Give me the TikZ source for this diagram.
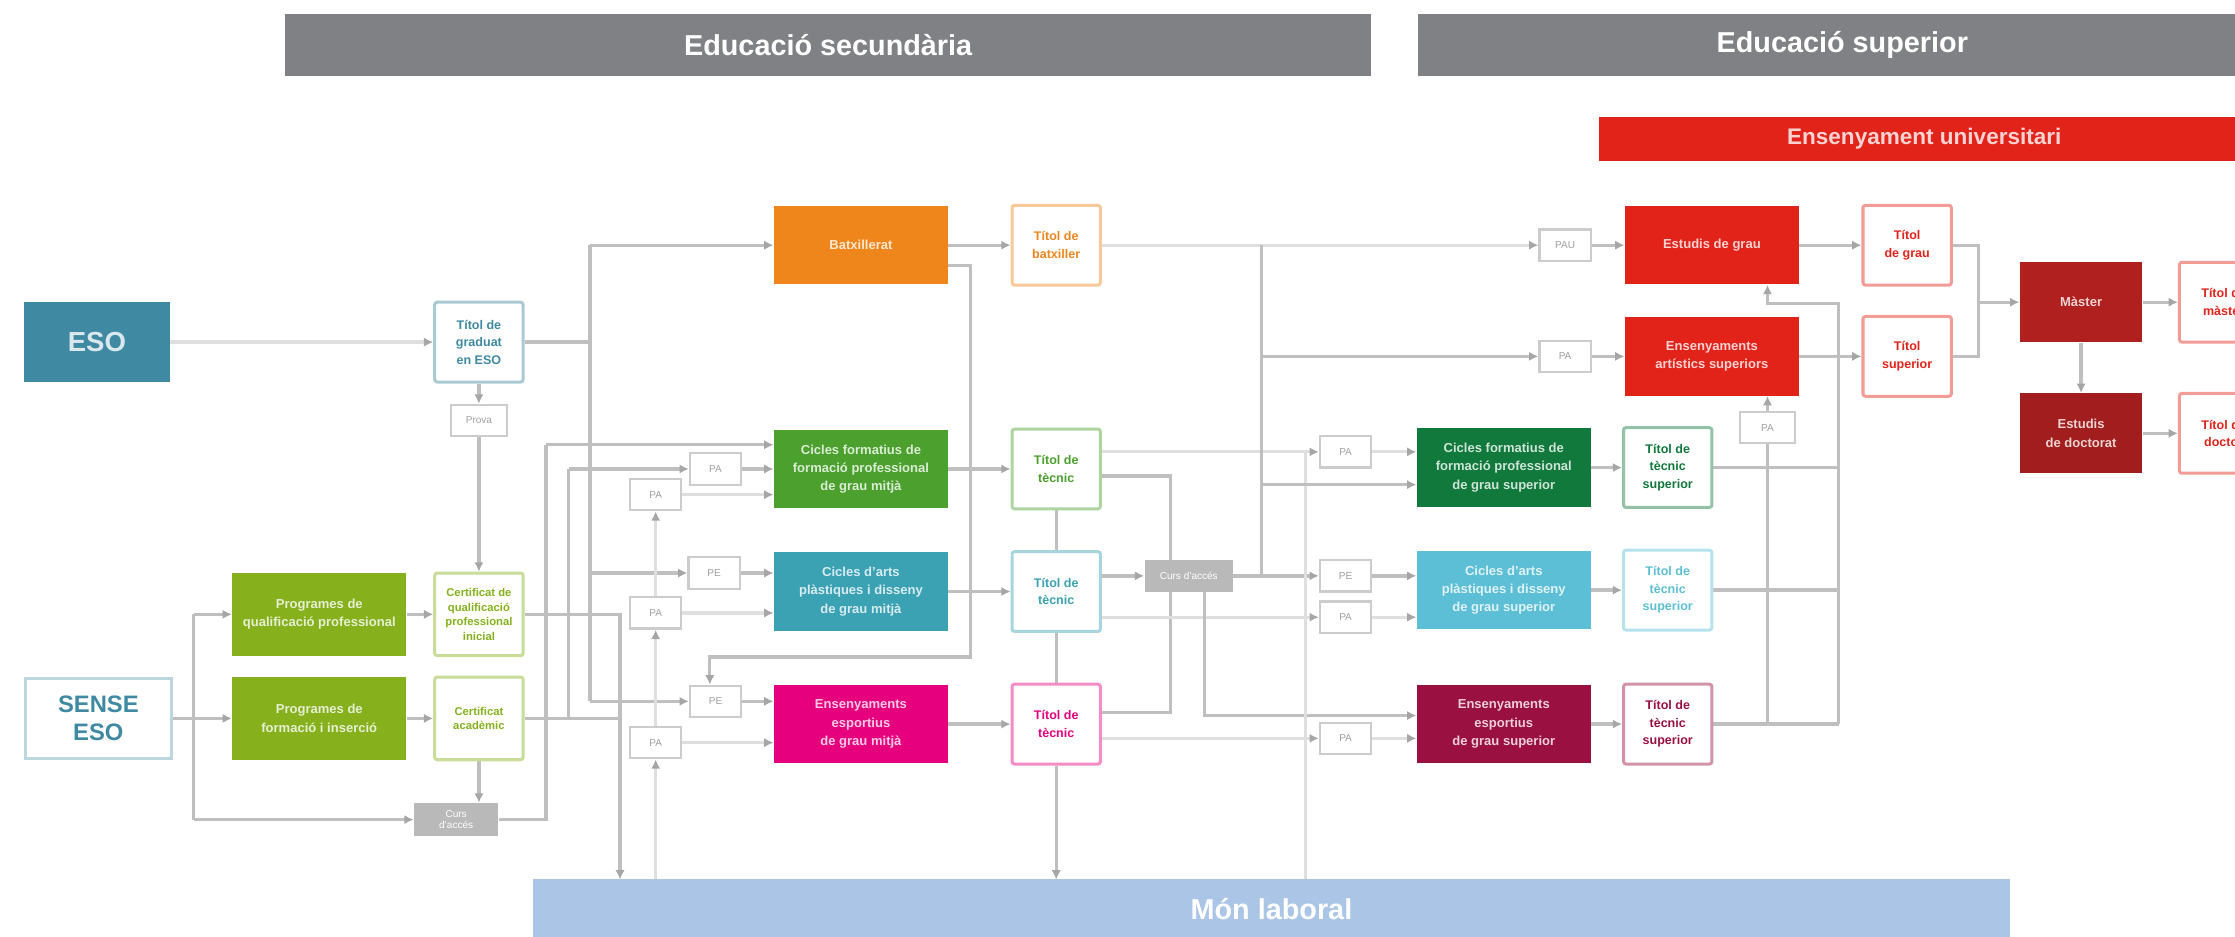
\documentclass[tikz,border=0pt]{standalone}
\usepackage{fontspec}
\setmainfont{Liberation Sans}
\usepackage{xcolor}
\usetikzlibrary{arrows.meta,positioning,calc,backgrounds}

\definecolor{cHead}{HTML}{808184}
\definecolor{cUni}{HTML}{E2231A}
\definecolor{cLab}{HTML}{AAC5E5}
\definecolor{cEso}{HTML}{3F8AA2}
\definecolor{cProg}{HTML}{86B11D}
\definecolor{cBatx}{HTML}{EE861B}
\definecolor{cCfgm}{HTML}{4BA02E}
\definecolor{cArtm}{HTML}{3BA2B4}
\definecolor{cEspm}{HTML}{E6007E}
\definecolor{cCfgs}{HTML}{10793B}
\definecolor{cArts}{HTML}{5DBFD5}
\definecolor{cEsps}{HTML}{9A1040}
\definecolor{cMast}{HTML}{B0201F}

\newcommand{\boxfont}{\fontsize{5.2}{7.3}\selectfont\bfseries}
\newcommand{\titfont}{\fontsize{5}{7}\selectfont\bfseries}
\newcommand{\tagfont}{\fontsize{4}{4.6}\selectfont}

\begin{document}
\begin{tikzpicture}[x=0.2mm,y=-0.2mm,
  headbar/.style={inner sep=0pt,text=white,font=\fontsize{11.5}{13}\selectfont\bfseries},
  blk/.style={fill=#1,text=#1!20!white,minimum width=24.4mm,minimum height=11mm,inner sep=1pt,align=center,font=\boxfont},
  tit/.style={draw=#1!45,line width=1.2pt,fill=white,text=#1,rounded corners=1pt,minimum width=12.4mm,minimum height=11.2mm,inner sep=0.5pt,align=center,font=\titfont},
  tagbox/.style={draw=gray!40,line width=0.9pt,fill=white,text=gray!75,minimum width=7.2mm,minimum height=4.4mm,inner sep=0pt,font=\tagfont},
  curbox/.style={fill=gray!55,text=white,minimum width=12.4mm,minimum height=4.4mm,inner sep=0pt,align=center,font=\tagfont},
  lnk/.style={draw=gray!50,line width=1.3pt},
  lnkl/.style={draw=gray!25,line width=1.3pt},
  arr/.style={-{Latex[length=1.3mm,width=1.3mm,color=gray!70]}}
]
\useasboundingbox (0,0) rectangle (1568,657);
\clip (0,0) rectangle (1568,657);

% bands
\node[headbar,fill=cHead,minimum width=152.4mm,minimum height=8.6mm] (hsec) at (581,31.5) {Educació secundària};
\node[headbar,fill=cHead,minimum width=119mm,minimum height=8.6mm] (hsup) at (1292.5,31.5) {Educació superior};
\node[headbar,fill=cUni,text=cUni!20!white,minimum width=91.2mm,minimum height=6.2mm,font=\fontsize{9}{10}\selectfont\bfseries] (huni) at (1350,97.5) {Ensenyament universitari};
\node[headbar,fill=cLab,minimum width=207.2mm,minimum height=8.4mm] (lab) at (892,638) {Món laboral};

% bus columns and levels
\coordinate (xS) at (136,0);
\coordinate (xC) at (383,0);
\coordinate (xQ) at (399,0);
\coordinate (xE) at (414,0);
\coordinate (xL) at (435,0);
\coordinate (xJ) at (498,0);
\coordinate (xB) at (681,0);
\coordinate (xK) at (821,0);
\coordinate (xD) at (845,0);
\coordinate (xR) at (885,0);
\coordinate (xW) at (916,0);
\coordinate (xU) at (1240,0);
\coordinate (xV) at (1290,0);
\coordinate (xT) at (1388,0);
\coordinate (yB) at (0,186);
\coordinate (yG) at (0,213);
\coordinate (yC) at (0,312);
\coordinate (yK) at (0,334);
\coordinate (yF) at (0,340);
\coordinate (yP) at (0,461);
\coordinate (yE) at (0,500);
\coordinate (yD) at (0,502);
\coordinate (yL) at (0,617);

% left
\node[fill=cEso,text=cEso!20!white,minimum width=20.4mm,minimum height=11.2mm,font=\fontsize{11}{13}\selectfont\bfseries] (eso) at (68,240) {ESO};
\node[draw=cEso!35,line width=1.2pt,fill=white,text=cEso,minimum width=20.4mm,minimum height=11.2mm,align=center,font=\fontsize{9.5}{11}\selectfont\bfseries] (sense) at (69,504) {SENSE\\ESO};
\node[tit=cEso] (titESO) at (336,240) {Títol de\\graduat\\en ESO};
\node[tagbox,minimum width=7.8mm] (tagESO) at (336,295) {Prova};
\node[blk=cProg,minimum height=11.6mm] (prog1) at (224,431) {Programes de\\qualificació professional};
\node[blk=cProg,minimum height=11.6mm] (prog2) at (224,504) {Programes de\\formació i inserció};
\node[tit=cProg,minimum height=11.6mm,font=\fontsize{4.5}{5.8}\selectfont\bfseries] (olv1) at (336,431) {Certificat de\\qualificació\\professional\\inicial};
\node[tit=cProg,minimum height=11.6mm,font=\fontsize{4.5}{5.8}\selectfont\bfseries] (olv2) at (336,504) {Certificat\\acadèmic};
\node[curbox,minimum width=11.8mm,minimum height=4.6mm] (curA) at (320,575) {Curs\\d'accés};

% grau mitja
\node[blk=cBatx] (batx) at (604,172) {Batxillerat};
\node[tit=cBatx] (titBatx) at (741,172) {Títol de\\batxiller};
\node[blk=cCfgm] (cfgm) at (604,329) {Cicles formatius de\\formació professional\\de grau mitjà};
\node[tit=cCfgm] (titGM) at (741,329) {Títol de\\tècnic};
\node[blk=cArtm] (artsGM) at (604,415) {Cicles d'arts\\plàstiques i disseny\\de grau mitjà};
\node[tit=cArtm] (titArtsGM) at (741,415) {Títol de\\tècnic};
\node[blk=cEspm] (espGM) at (604,508) {Ensenyaments\\esportius\\de grau mitjà};
\node[tit=cEspm] (titEspGM) at (741,508) {Títol de\\tècnic};
\node[tagbox] (tPA1) at (502,329) {PA};
\node[tagbox] (tPE1) at (501,402) {PE};
\node[tagbox] (tPE2) at (502,492) {PE};
\node[tagbox] (tML1) at (460,347) {PA};
\node[tagbox] (tML2) at (460,430) {PA};
\node[tagbox] (tML3) at (460,521) {PA};
\node[curbox] (cursB) at (834,404) {Curs d'accés};

% grau superior
\node[tagbox] (rPA1) at (944,317) {PA};
\node[tagbox] (rPE) at (944,404) {PE};
\node[tagbox] (rPA2) at (944,433) {PA};
\node[tagbox] (rPA3) at (944,518) {PA};
\node[blk=cCfgs] (cfgs) at (1055,328) {Cicles formatius de\\formació professional\\de grau superior};
\node[tit=cCfgs] (titGS) at (1170,328) {Títol de\\tècnic\\superior};
\node[blk=cArts] (artsGS) at (1055,414) {Cicles d'arts\\plàstiques i disseny\\de grau superior};
\node[tit=cArts] (titArtsGS) at (1170,414) {Títol de\\tècnic\\superior};
\node[blk=cEsps] (espGS) at (1055,508) {Ensenyaments\\esportius\\de grau superior};
\node[tit=cEsps] (titEspGS) at (1170,508) {Títol de\\tècnic\\superior};

% universitat
\node[tagbox] (uPAU1) at (1098,172) {PAU};
\node[tagbox] (uPA2) at (1098,250) {PA};
\node[blk=cUni] (grau) at (1201,172) {Estudis de grau};
\node[blk=cUni] (artSup) at (1201,250) {Ensenyaments\\artístics superiors};
\node[tagbox,minimum width=7.8mm] (tagSup) at (1240,300) {PA};
\node[tit=cUni] (titGrau) at (1338,172) {Títol\\de grau};
\node[tit=cUni] (titSup) at (1338,250) {Títol\\superior};
\node[blk=cMast,minimum width=17.2mm,minimum height=11.2mm] (master) at (1460,212) {Màster};
\node[blk=cMast!92!black,minimum width=17.2mm,minimum height=11.2mm] (doct) at (1460,304) {Estudis\\de doctorat};
\node[tit=cUni] (titMaster) at (1560,212) {Títol de\\màster};
\node[tit=cUni] (titDoct) at (1560,304) {Títol de\\doctor};

\begin{scope}[on background layer]
% ESO i sense ESO
\draw[lnkl,arr] (eso) -- (titESO);
\draw[lnk] (titESO) -- (titESO -| xE);
\draw[lnk] (xE |- batx) -- (xE |- tPE2);
\draw[lnk,arr] (xE |- batx) -- (batx);
\draw[lnk,arr] (xC |- yC) -- (cfgm.west |- yC);
\draw[lnk,arr] (xE |- tPE1) -- (tPE1);
\draw[lnk,arr] (xE |- tPE2) -- (tPE2);
\draw[lnk,arr] (tPE1) -- (tPE1 -| artsGM.west);
\draw[lnk,arr] (tPE2) -- (tPE2 -| espGM.west);
\draw[lnk,arr] (titESO) -- (tagESO);
\draw[lnk,arr] (tagESO) -- (olv1);
\draw[lnk,arr] (sense) -- (prog2);
\draw[lnk] (xS |- prog1) -- (xS |- curA);
\draw[lnk,arr] (xS |- prog1) -- (prog1);
\draw[lnk,arr] (xS |- curA) -- (curA);
\draw[lnk,arr] (prog1) -- (olv1);
\draw[lnk,arr] (prog2) -- (olv2);
\draw[lnk,arr] (olv2.south) -- (olv2.south |- curA.north);
\draw[lnk] (curA) -| (xC |- yC);
\draw[lnk,arr] (olv1) -| (xL |- yL);
\draw[lnk] (olv2) -- (xL |- olv2);
\draw[lnk] (xQ |- olv2) -- (xQ |- tPA1);
\draw[lnk,arr] (xQ |- tPA1) -- (tPA1);
\draw[lnk,arr] (tPA1) -- (cfgm);
\draw[lnkl,arr] (tML1) -- (tML1 -| cfgm.west);
\draw[lnkl,arr] (tML2) -- (tML2 -| artsGM.west);
\draw[lnkl,arr] (tML3) -- (tML3 -| espGM.west);
\draw[lnkl,arr] (tML2) -- (tML1);
\draw[lnkl,arr] (tML3) -- (tML2);
\draw[lnkl,arr] (tML3 |- yL) -- (tML3);

% batxillerat i grau mitja
\draw[lnk,arr] (batx) -- (titBatx);
\draw[lnk,arr] (batx.east |- yB) -- (xB |- yB) -- (xB |- yP) -- (xJ |- yP) -- (xJ |- tPE2.north);
\draw[lnk,arr] (cfgm) -- (titGM);
\draw[lnk,arr] (artsGM) -- (titArtsGM);
\draw[lnk,arr] (espGM) -- (titEspGM);
\draw[lnk] (titGM) -- (titArtsGM);
\draw[lnk] (titArtsGM) -- (titEspGM);
\draw[lnk,arr] (titEspGM) -- (titEspGM |- yL);
\draw[lnkl,arr] (rPA1 -| titGM.east) -- (rPA1);
\draw[lnkl,arr] (rPA1) -- (rPA1 -| cfgs.west);
\draw[lnk] (titGM.east |- yK) -| (xK |- yE) -- (titEspGM.east |- yE);
\draw[lnk,arr] (cursB -| titArtsGM.east) -- (cursB);
\draw[lnk,arr] (cursB) -- (rPE);
\draw[lnk,arr] (rPE) -- (rPE -| artsGS.west);
\draw[lnkl,arr] (rPA2 -| titArtsGM.east) -- (rPA2);
\draw[lnkl,arr] (rPA2) -- (rPA2 -| artsGS.west);
\draw[lnkl,arr] (rPA3 -| titEspGM.east) -- (rPA3);
\draw[lnkl,arr] (rPA3) -- (rPA3 -| espGS.west);
\draw[lnk,arr] (xD |- cursB.south) -- (xD |- yD) -- (espGS.west |- yD);
\draw[lnkl] (xW |- rPA1) -- (xW |- yL);

% cap a la universitat
\draw[lnkl,arr] (titBatx) -- (uPAU1);
\draw[lnk,arr] (uPAU1) -- (grau);
\draw[lnk] (xR |- titBatx) -- (xR |- cursB);
\draw[lnk,arr] (xR |- uPA2) -- (uPA2);
\draw[lnk,arr] (uPA2) -- (artSup);
\draw[lnk,arr] (xR |- yF) -- (cfgs.west |- yF);

% grau superior
\draw[lnk,arr] (cfgs) -- (titGS);
\draw[lnk,arr] (artsGS) -- (titArtsGS);
\draw[lnk,arr] (espGS) -- (titEspGS);
\draw[lnk] (titGS) -- (titGS -| xV);
\draw[lnk] (titArtsGS) -- (titArtsGS -| xV);
\draw[lnk] (titEspGS) -- (titEspGS -| xV);
\draw[lnk] (xU |- tagSup.south) -- (xU |- titEspGS);
\draw[lnk,arr] (tagSup) -- (tagSup |- artSup.south);
\draw[lnk,arr] (xV |- titEspGS) -- (xV |- yG) -- (xU |- yG) -- (xU |- grau.south);

% universitat
\draw[lnk,arr] (grau) -- (titGrau);
\draw[lnk,arr] (artSup) -- (titSup);
\draw[lnk] (titGrau) -| (xT |- titSup) -- (titSup);
\draw[lnk,arr] (xT |- master) -- (master);
\draw[lnk,arr] (master) -- (titMaster);
\draw[lnk,arr] (master) -- (doct);
\draw[lnk,arr] (doct) -- (titDoct);
\end{scope}
\end{tikzpicture}
\end{document}
